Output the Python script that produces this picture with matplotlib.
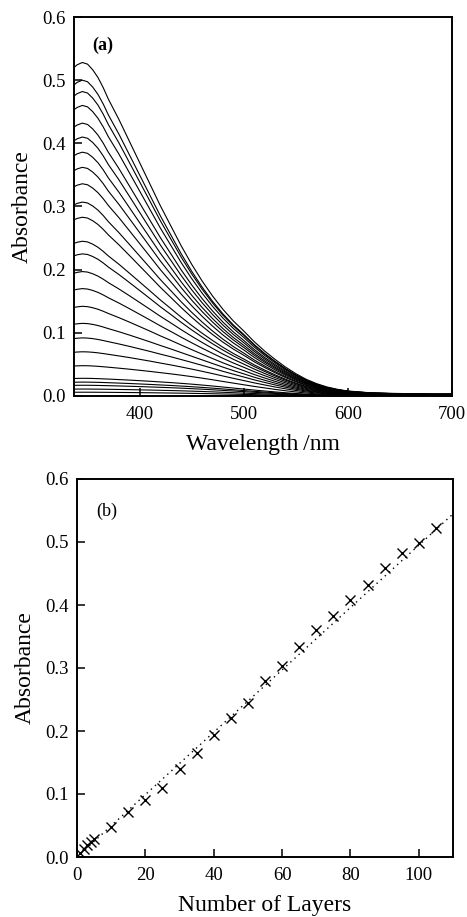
import numpy as np
import matplotlib
matplotlib.use("Agg")
import matplotlib.pyplot as plt
from matplotlib.ticker import FormatStrFormatter

plt.rcParams['font.family'] = ['Liberation Serif', 'DejaVu Serif']

# ---------------- data: panel (a) spectra ----------------
wavelength = [337, 340, 345, 350, 355, 360, 365, 370, 380, 390, 400, 410, 420, 430,
              440, 450, 460, 470, 480, 490, 500, 510, 520, 530, 540, 550, 560, 570,
              580, 590, 600, 620, 640, 660, 680, 700]
# normalised band shape of the thick films
band_shape = [0.985, 0.993, 1.000, 0.995, 0.978, 0.955, 0.925, 0.890, 0.830, 0.765,
              0.700, 0.635, 0.570, 0.510, 0.450, 0.395, 0.345, 0.300, 0.260, 0.225,
              0.195, 0.163, 0.135, 0.110, 0.087, 0.067, 0.050, 0.037, 0.027, 0.020,
              0.015, 0.010, 0.008, 0.007, 0.006, 0.006]
# normalised broad shape of the thin films
broad_shape = [0.990, 0.995, 1.000, 0.998, 0.993, 0.985, 0.975, 0.965, 0.940, 0.915,
               0.885, 0.855, 0.820, 0.785, 0.745, 0.700, 0.650, 0.595, 0.535, 0.475,
               0.415, 0.355, 0.300, 0.245, 0.195, 0.150, 0.110, 0.080, 0.058, 0.042,
               0.030, 0.018, 0.012, 0.010, 0.009, 0.008]
peak_absorbance = [0.528, 0.500, 0.482, 0.460, 0.432, 0.410, 0.386, 0.362, 0.336,
                   0.307, 0.283, 0.245, 0.225, 0.197, 0.170, 0.142, 0.115, 0.092,
                   0.070, 0.048, 0.028, 0.022, 0.017, 0.011, 0.006]
broad_fraction = [0.0, 0.0, 0.02, 0.03, 0.04, 0.05, 0.06, 0.08, 0.10, 0.12, 0.15,
                  0.20, 0.23, 0.28, 0.33, 0.40, 0.50, 0.60, 0.70, 0.80, 0.90, 0.90,
                  0.95, 1.0, 1.0]

# ---------------- data: panel (b) ----------------
layers = [1, 2, 3, 4, 5, 10, 15, 20, 25, 30, 35, 40, 45, 50, 55, 60, 65, 70, 75,
          80, 85, 90, 95, 100, 105]
layer_absorbance = [0.006, 0.012, 0.019, 0.024, 0.029, 0.048, 0.072, 0.091, 0.110,
                    0.139, 0.165, 0.193, 0.220, 0.244, 0.279, 0.303, 0.333, 0.360,
                    0.383, 0.408, 0.432, 0.458, 0.482, 0.498, 0.523]
fit_slope = 0.00495
fit_range = [0, 110]

W, H = 467, 917
fig = plt.figure(figsize=(W / 100, H / 100), dpi=100)

def px_axes(left, top, right, bottom):
    return fig.add_axes([left / W, 1 - bottom / H, (right - left) / W, (bottom - top) / H])

def style(ax):
    for s in ax.spines.values():
        s.set_linewidth(1.4)
    ax.tick_params(direction='in', length=6, width=1.1, labelsize=13.5,
                   top=False, right=False, pad=7)
    ax.yaxis.set_major_formatter(FormatStrFormatter('%.1f'))

# ---- panel (a)
ax1 = px_axes(74, 17, 452, 396)
wl = np.array(wavelength)
band = np.array(band_shape)
broad = np.array(broad_shape)
for pk, fr in zip(peak_absorbance, broad_fraction):
    ax1.plot(wl, pk * ((1 - fr) * band + fr * broad), color='black', lw=0.8)
ax1.set_xlim(337, 700)
ax1.set_ylim(0, 0.6)
ax1.set_xticks([400, 500, 600, 700])
ax1.set_yticks(np.arange(0, 0.61, 0.1))
style(ax1)
ax1.tick_params(axis='y', pad=6)
ax1.set_xlabel('Wavelength\u2009/nm', fontsize=17, labelpad=8)
ax1.set_ylabel('Absorbance', fontsize=17, labelpad=7)
ax1.text(0.075, 0.925, '(a)', transform=ax1.transAxes, fontsize=13,
         fontweight='bold', ha='center', va='center')

# ---- panel (b)
ax2 = px_axes(77, 479, 453, 857)
fx = np.array(fit_range, dtype=float)
ax2.plot(fx, fit_slope * fx, color='black', ls=(0, (1, 3)), lw=1.0)
ax2.plot(layers, layer_absorbance, ls='none', marker='x', color='black',
         markersize=6.5, markeredgewidth=1.0)
ax2.set_xlim(0, 110)
ax2.set_ylim(0, 0.6)
ax2.set_xticks([0, 20, 40, 60, 80, 100])
ax2.set_yticks(np.arange(0, 0.61, 0.1))
style(ax2)
ax2.tick_params(axis='y', pad=6)
ax2.set_xlabel('Number of Layers', fontsize=17, labelpad=8)
ax2.set_ylabel('Absorbance', fontsize=17, labelpad=7)
ax2.text(0.08, 0.915, '(b)', transform=ax2.transAxes, fontsize=13,
         ha='center', va='center')

fig.savefig('out.png', dpi=100)
